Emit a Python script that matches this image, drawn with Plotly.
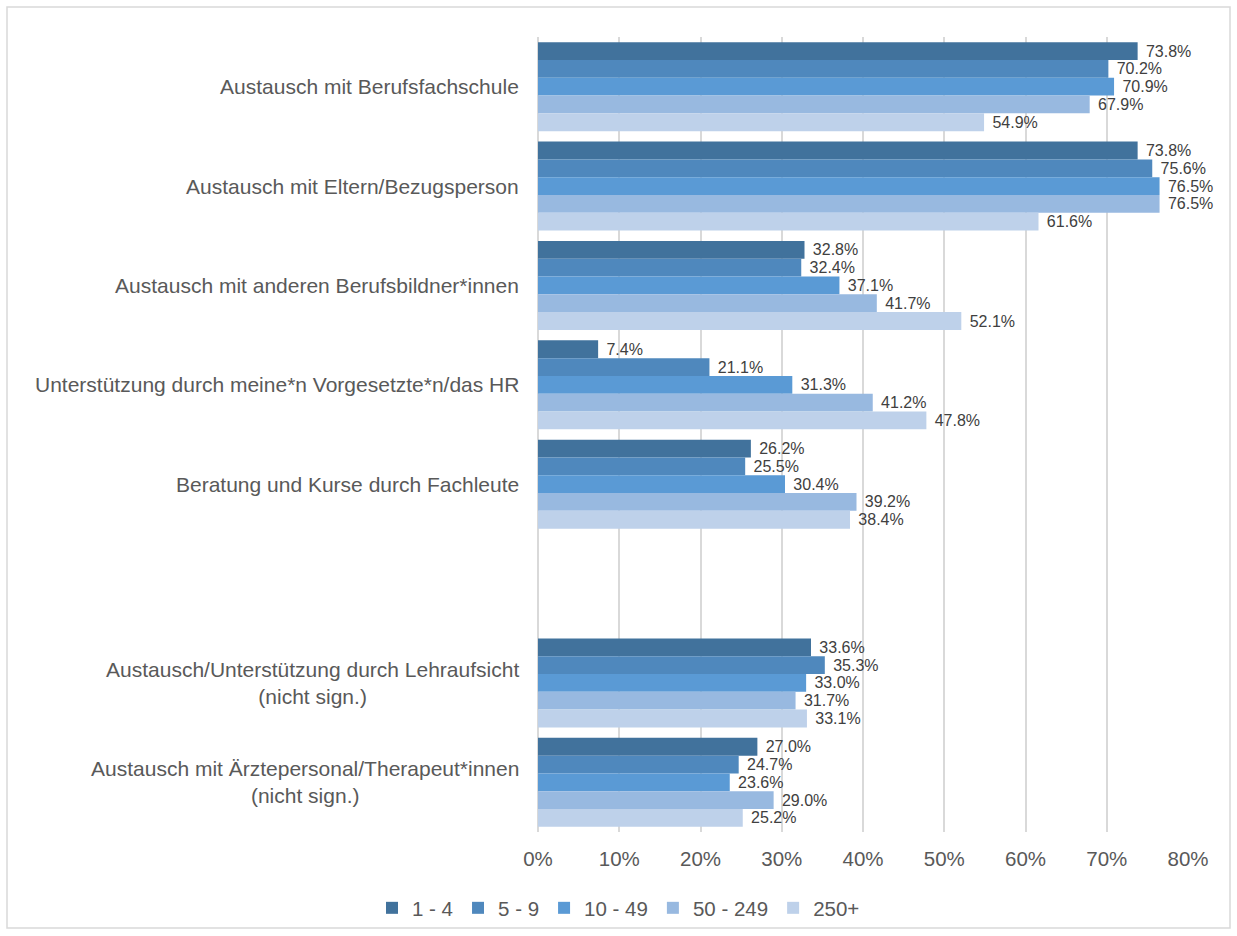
import plotly.graph_objects as go

# Categories (top to bottom); the blank entry is an empty slot separating the two blocks
categories = [
    "Austausch mit Berufsfachschule",
    "Austausch mit Eltern/Bezugsperson",
    "Austausch mit anderen Berufsbildner*innen",
    "Unterstützung durch meine*n Vorgesetzte*n/das HR",
    "Beratung und Kurse durch Fachleute",
    " ",
    "Austausch/Unterstützung durch Lehraufsicht<br>(nicht sign.)",
    "Austausch mit Ärztepersonal/Therapeut*innen<br>(nicht sign.)",
]

series_names = ["1 - 4", "5 - 9", "10 - 49", "50 - 249", "250+"]

# Percentages per company size (None = empty slot)
values_1_4 = [73.8, 73.8, 32.8, 7.4, 26.2, None, 33.6, 27.0]
values_5_9 = [70.2, 75.6, 32.4, 21.1, 25.5, None, 35.3, 24.7]
values_10_49 = [70.9, 76.5, 37.1, 31.3, 30.4, None, 33.0, 23.6]
values_50_249 = [67.9, 76.5, 41.7, 41.2, 39.2, None, 31.7, 29.0]
values_250 = [54.9, 61.6, 52.1, 47.8, 38.4, None, 33.1, 25.2]

x_ticks = [0, 10, 20, 30, 40, 50, 60, 70, 80]
x_tick_labels = ["0%", "10%", "20%", "30%", "40%", "50%", "60%", "70%", "80%"]

colors = ["#41729C", "#4F88BD", "#5A9AD5", "#98B9E0", "#BED1EA"]
series_values = [values_1_4, values_5_9, values_10_49, values_50_249, values_250]

FONT = "Arial, Liberation Sans, sans-serif"

fig = go.Figure()
for name, vals, col in zip(series_names, series_values, colors):
    fig.add_trace(go.Bar(
        name=name,
        y=categories,
        x=vals,
        orientation="h",
        marker=dict(color=col, line=dict(width=0)),
        text=[None if v is None else f"\u2004{v:.1f}%" for v in vals],
        textposition="outside",
        textfont=dict(family=FONT, size=16, color="#404040"),
        constraintext="none",
        cliponaxis=False,
        hoverinfo="skip",
    ))

# Category labels, centred line by line and right-aligned to the axis
annotations = []
for cat in categories:
    if cat.strip() == "":
        continue
    annotations.append(dict(
        x=0, xref="paper", y=cat, yref="y",
        text=cat, showarrow=False,
        xanchor="right", yanchor="middle", align="center",
        xshift=-17,
        font=dict(family=FONT, size=21, color="#595959"),
    ))

L, R, T, B = 538, 49, 37, 104
W, H = 1237, 936
pw, ph = W - L - R, H - T - B

# Outer chart border
shapes = [dict(
    type="rect", xref="paper", yref="paper",
    x0=(7 - L) / pw, x1=(1230 - L) / pw,
    y0=(H - B - 928) / ph, y1=(H - B - 7) / ph,
    line=dict(color="#D9D9D9", width=1.5),
    fillcolor="rgba(0,0,0,0)", layer="below",
)]

fig.update_layout(
    width=W, height=H,
    margin=dict(l=L, r=R, t=T, b=B),
    paper_bgcolor="white",
    plot_bgcolor="white",
    barmode="group",
    bargap=0.105,
    bargroupgap=0,
    font=dict(family=FONT, color="#595959"),
    showlegend=True,
    legend=dict(
        orientation="h",
        xref="container", yref="container",
        x=0.5, xanchor="center",
        y=(H - 908) / H, yanchor="middle",
        font=dict(family=FONT, size=20.5, color="#595959"),
        bgcolor="rgba(0,0,0,0)",
        itemwidth=30,
        traceorder="normal",
    ),
    xaxis=dict(
        range=[0, 80],
        tickvals=x_ticks,
        ticktext=x_tick_labels,
        showgrid=True,
        gridcolor="#D9D9D9",
        gridwidth=1.5,
        zeroline=True,
        zerolinecolor="#D9D9D9",
        zerolinewidth=1.5,
        showline=False,
        ticks="",
        ticklabelstandoff=12,
        tickfont=dict(family=FONT, size=20.5, color="#595959"),
        fixedrange=True,
    ),
    yaxis=dict(
        type="category",
        categoryorder="array",
        categoryarray=categories,
        autorange="reversed",
        showticklabels=False,
        showgrid=False,
        zeroline=False,
        showline=False,
        ticks="",
        fixedrange=True,
    ),
    annotations=annotations,
    shapes=shapes,
)

fig.write_html("out.html")
